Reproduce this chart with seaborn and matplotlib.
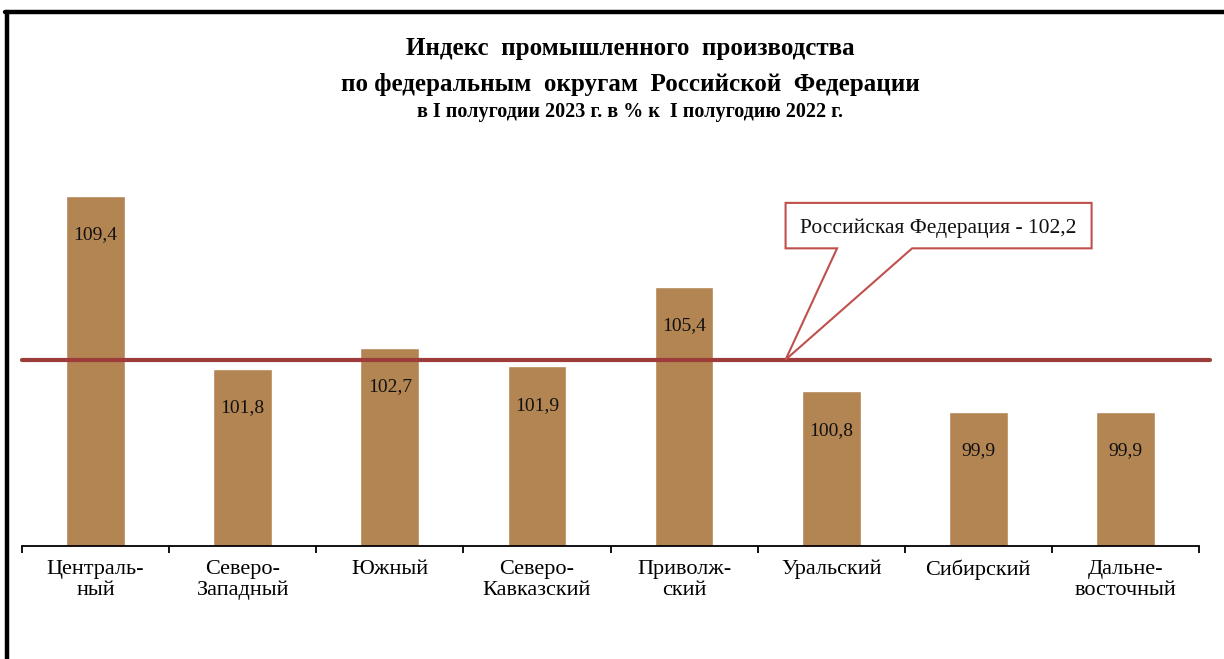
import matplotlib
matplotlib.use('Agg')
import matplotlib.pyplot as plt
from matplotlib.lines import Line2D
from matplotlib.patches import Polygon
import seaborn as sns

districts = ['Централь-\nный', 'Северо-\nЗападный', 'Южный', 'Северо-\nКавказский',
             'Приволж-\nский', 'Уральский', 'Сибирский', 'Дальне-\nвосточный']
index_values = [109.4, 101.8, 102.7, 101.9, 105.4, 100.8, 99.9, 99.9]
russia_total = 102.2
callout_text = 'Российская Федерация - 102,2'
title_lines = ['Индекс  промышленного  производства',
               'по федеральным  округам  Российской  Федерации',
               'в I полугодии 2023 г. в % к  I полугодию 2022 г.']

bar_color = '#B38552'
line_color = '#9E3B3B'
box_color = '#C0504D'

sns.set_theme(style='white')
plt.rcParams['font.family'] = ['Liberation Serif', 'DejaVu Serif']
plt.rcParams['text.color'] = 'black'

fig = plt.figure(figsize=(12.24, 6.59), dpi=100)
ax = fig.add_axes([22 / 1224, 113 / 659, 1177 / 1224, 409 / 659])

sns.barplot(x=list(range(len(districts))), y=index_values, color=bar_color,
            width=0.4, saturation=1, ax=ax)
ax.set_ylim(94, 112)
ax.set_xlim(-0.5, len(districts) - 0.5)

# value labels inside the bars, near the top
labels = [f'{v:.1f}'.replace('.', ',') for v in index_values]
ax.bar_label(ax.containers[0], labels=labels, padding=-34, fontsize=14, color='#111111')

# line for Russia as a whole
ax.axhline(russia_total, xmin=0, xmax=1.0093, color=line_color, lw=3, clip_on=False, zorder=3)

# callout box with a pointer to the line
bx0, bx1, by0, by1 = 4.69, 6.77, 107.1, 109.1
px0, px1 = 5.04, 5.55
call = Polygon([(bx0, by1), (bx1, by1), (bx1, by0), (px1, by0), (bx0, russia_total),
                (px0, by0), (bx0, by0)], closed=True, facecolor='white',
               edgecolor=box_color, lw=1.5, zorder=4)
ax.add_patch(call)
ax.text(bx0 + 0.1, (by0 + by1) / 2 - 0.12, callout_text, fontsize=15.5, va='center', ha='left',
        color='#111111', zorder=5)

# axes styling
for s in ['top', 'right', 'left']:
    ax.spines[s].set_visible(False)
ax.spines['bottom'].set_color('black')
ax.spines['bottom'].set_linewidth(1.3)
ax.set_yticks([])
ax.set_xticks(range(len(districts)))
ax.set_xticklabels(districts, fontsize=16, linespacing=1.12, color='black')
ax.set_xticks([i - 0.5 for i in range(len(districts) + 1)], minor=True)
ax.tick_params(axis='x', which='major', length=0, pad=10, bottom=False)
ax.tick_params(axis='x', which='minor', length=5, width=1.3, color='black',
               direction='out', bottom=True)
ax.set_xlabel('')
ax.set_ylabel('')

# title
fig.text(0.515, 1 - 48 / 659, title_lines[0], ha='center', va='center', fontsize=18, weight='bold')
fig.text(0.515, 1 - 84 / 659, title_lines[1], ha='center', va='center', fontsize=18, weight='bold')
fig.text(0.515, 1 - 112 / 659, title_lines[2], ha='center', va='center', fontsize=14.5, weight='bold')

# frame lines of the slide
fig.add_artist(Line2D([5 / 1224, 1], [1 - 12 / 659, 1 - 12 / 659], color='black', lw=3.2, transform=fig.transFigure))
fig.add_artist(Line2D([7 / 1224, 7 / 1224], [0, 1 - 12 / 659], color='black', lw=3.2, transform=fig.transFigure))

fig.savefig('out.png', dpi=100)
